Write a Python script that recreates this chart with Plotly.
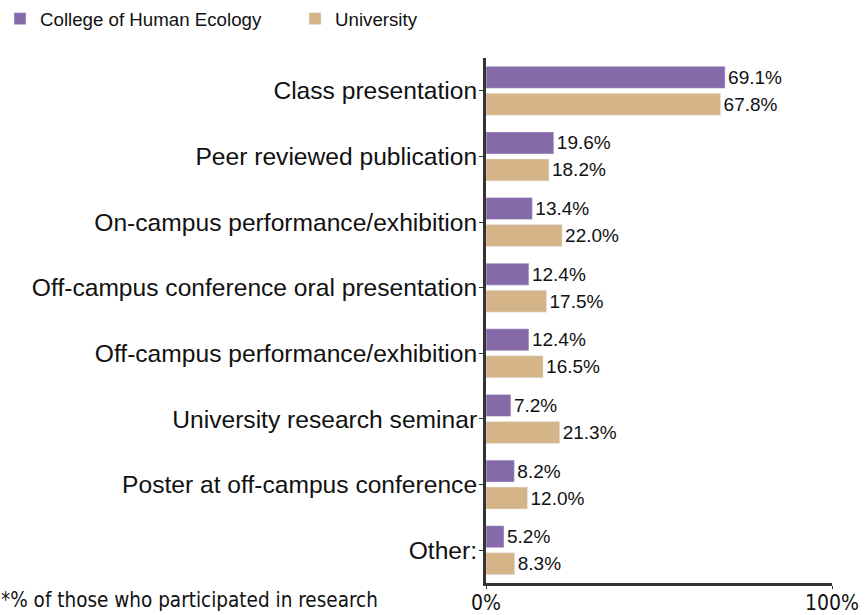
import plotly.graph_objects as go

categories = [
    "Class presentation",
    "Peer reviewed publication",
    "On-campus performance/exhibition",
    "Off-campus conference oral presentation",
    "Off-campus performance/exhibition",
    "University research seminar",
    "Poster at off-campus conference",
    "Other:",
]
college = [69.1, 19.6, 13.4, 12.4, 12.4, 7.2, 8.2, 5.2]
university = [67.8, 18.2, 22.0, 17.5, 16.5, 21.3, 12.0, 8.3]
x_ticks = [0, 100]
x_tick_labels = ["0%", "100%"]

W, H = 865, 615
L, R, T, B = 486, 33, 58, 32
NARROW = "Liberation Sans Narrow, DejaVu Sans Condensed, Arial Narrow, sans-serif"

fig = go.Figure()
fig.add_trace(go.Bar(
    y=categories, x=college, orientation="h", name="College of Human Ecology",
    marker=dict(color="#8669a9"), legend="legend",
    text=[f"{v:.1f}%" for v in college], textposition="outside",
    textfont=dict(size=19, color="#111111"), cliponaxis=False,
))
fig.add_trace(go.Bar(
    y=categories, x=university, orientation="h", name="University",
    marker=dict(color="#d5b487"), legend="legend2",
    text=[f"{v:.1f}%" for v in university], textposition="outside",
    textfont=dict(size=19, color="#111111"), cliponaxis=False,
))

fig.add_annotation(
    text="*% of those who participated in research",
    xref="paper", yref="paper", x=-L / (W - L - R), y=-0.008,
    xanchor="left", yanchor="top", showarrow=False, borderpad=0,
    font=dict(family=NARROW, size=20.5, color="#111111"),
)

leg = dict(orientation="h", xref="container", yref="container",
           y=1.0, xanchor="left", yanchor="top", font=dict(size=18.7),
           bgcolor="rgba(0,0,0,0)")

fig.update_layout(
    width=W, height=H,
    margin=dict(l=L, r=R, t=T, b=B, pad=0, autoexpand=False),
    paper_bgcolor="white", plot_bgcolor="white",
    font=dict(family="Liberation Sans, Arial, sans-serif", color="#111111"),
    barmode="group", bargap=0.178, bargroupgap=0.185,
    showlegend=True,
    legend=dict(leg, x=0.0),
    legend2=dict(leg, x=295 / W),
    xaxis=dict(range=[0, 100], tickvals=x_ticks, ticktext=x_tick_labels,
               showgrid=False, zeroline=False, showline=True, linecolor="#333333",
               linewidth=3, ticks="outside", ticklen=3, tickcolor="#333333",
               ticklabelstandoff=-4,
               tickfont=dict(size=21, family=NARROW)),
    yaxis=dict(autorange="reversed", showgrid=False, zeroline=False,
               showline=True, linecolor="#333333", linewidth=3,
               ticks="outside", ticklen=4, tickcolor="#333333",
               ticklabelstandoff=-3,
               tickfont=dict(size=24.6)),
)

fig.write_html("out.html", config={"displayModeBar": False},
               post_script="document.body.style.margin='0';")
